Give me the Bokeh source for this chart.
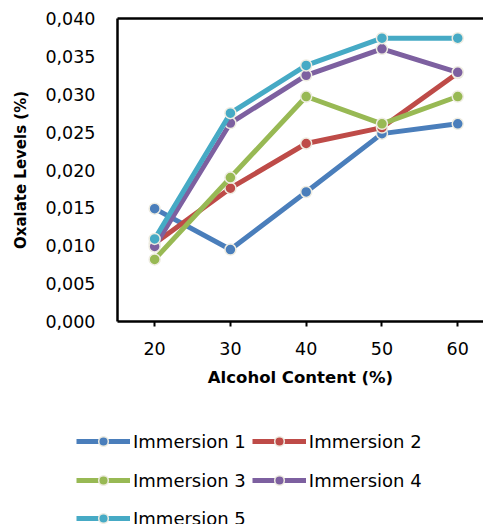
from bokeh.plotting import figure
from bokeh.layouts import column, row
from bokeh.models import (Range1d, FixedTicker, CustomJSTickFormatter, LinearAxis,
                          Legend, LegendItem)
from bokeh.embed import file_html
from bokeh.resources import INLINE

# Oxalate levels (%) by alcohol content (%) for five immersion runs
alcohol = [20, 30, 40, 50, 60]
immersion_1 = [0.0149, 0.0095, 0.0171, 0.0248, 0.0261]
immersion_2 = [0.0103, 0.0176, 0.0235, 0.0256, 0.0328]
immersion_3 = [0.0082, 0.0190, 0.0297, 0.0261, 0.0297]
immersion_4 = [0.0099, 0.0262, 0.0325, 0.0360, 0.0329]
immersion_5 = [0.0109, 0.0275, 0.0338, 0.0374, 0.0374]

series_names = ["Immersion 1", "Immersion 2", "Immersion 3", "Immersion 4", "Immersion 5"]
series_values = [immersion_1, immersion_2, immersion_3, immersion_4, immersion_5]
colors = ["#4A7EBB", "#BE4B48", "#98B954", "#7D60A0", "#46AAC5"]

x_ticks = [20, 30, 40, 50, 60]
y_ticks = [0.000, 0.005, 0.010, 0.015, 0.020, 0.025, 0.030, 0.035, 0.040]

FONT = "DejaVu Sans"
MARKER_EDGE = "#EEECE1"

p = figure(width=483, height=400, output_backend="svg", toolbar_location=None,
           x_range=Range1d(15.1, 63.4), y_range=Range1d(0, 0.040),
           min_border_left=117, min_border_right=0, min_border_top=18,
           min_border_bottom=79)
p.outline_line_color = None
p.xgrid.visible = False
p.ygrid.visible = False
p.background_fill_color = "white"
p.border_fill_color = "white"

# x axis
xa = p.xaxis[0]
xa.ticker = FixedTicker(ticks=x_ticks)
xa.minor_tick_line_color = None
xa.major_tick_in = 0
xa.major_tick_out = 5
xa.major_tick_line_width = 2
xa.major_tick_line_color = "black"
xa.axis_line_width = 2.5
xa.axis_line_color = "black"
xa.major_label_text_font = FONT
xa.major_label_text_font_size = "17.5px"
xa.major_label_text_color = "black"
xa.major_label_standoff = 15
xa.axis_label = "Alcohol Content (%)"
xa.axis_label_text_font = FONT
xa.axis_label_text_font_style = "bold"
xa.axis_label_text_font_size = "16.5px"
xa.axis_label_text_color = "black"
xa.axis_label_standoff = 10

# y axis
ya = p.yaxis[0]
ya.ticker = FixedTicker(ticks=y_ticks)
ya.formatter = CustomJSTickFormatter(code="return tick.toFixed(3).replace('.', ',');")
ya.minor_tick_line_color = None
ya.major_tick_in = 0
ya.major_tick_out = 0
ya.axis_line_width = 2.5
ya.axis_line_color = "black"
ya.major_label_text_font = FONT
ya.major_label_text_font_size = "17.5px"
ya.major_label_text_color = "black"
ya.major_label_standoff = 22
ya.axis_label = "Oxalate Levels (%)"
ya.axis_label_text_font = FONT
ya.axis_label_text_font_style = "bold"
ya.axis_label_text_font_size = "15px"
ya.axis_label_text_color = "black"
ya.axis_label_standoff = 12

# top border line of the plot area
top = LinearAxis(major_tick_in=0, major_tick_out=0, minor_tick_in=0, minor_tick_out=0,
                 major_label_text_font_size="0px", axis_line_width=2.5,
                 axis_line_color="black", ticker=FixedTicker(ticks=[]))
p.add_layout(top, "above")

for vals, col in zip(series_values, colors):
    p.line(alcohol, vals, line_color=col, line_width=5)
    p.scatter(alcohol, vals, size=11, fill_color=col, line_color=MARKER_EDGE,
              line_width=1.5)

# legend panel underneath the chart (hidden proxy renderers carry the styles)
lg = figure(width=483, height=124, output_backend="svg", toolbar_location=None,
            x_range=Range1d(0, 1), y_range=Range1d(0, 1),
            x_axis_location=None, y_axis_location=None,
            min_border_left=0, min_border_right=0, min_border_top=0,
            min_border_bottom=0)
lg.outline_line_color = None
lg.xgrid.visible = False
lg.ygrid.visible = False
lg.border_fill_color = "white"
lg.background_fill_color = "white"

items = []
for name, vals, col in zip(series_names, series_values, colors):
    lr = lg.line(alcohol, vals, line_color=col, line_width=5, visible=False)
    sr = lg.scatter(alcohol, vals, size=11, fill_color=col, line_color=MARKER_EDGE,
                    line_width=1.5, visible=False)
    items.append(LegendItem(label=name, renderers=[lr, sr]))

rows = [items[0:2], items[2:4], items[4:5]]
row_bottoms = [71, 32, -6]
for row_items, yb in zip(rows, row_bottoms):
    leg = Legend(items=row_items, orientation="horizontal", location=(76, yb),
                 border_line_color=None, background_fill_alpha=0, padding=0, margin=0,
                 spacing=6, glyph_width=54, glyph_height=24, label_height=24,
                 label_standoff=3, label_text_font=FONT, label_text_font_size="18px",
                 label_text_color="black", inactive_fill_alpha=0)
    lg.add_layout(leg)

page = column(p, row(lg, spacing=0), spacing=0)
open("out.html", "w").write(file_html(page, INLINE))
